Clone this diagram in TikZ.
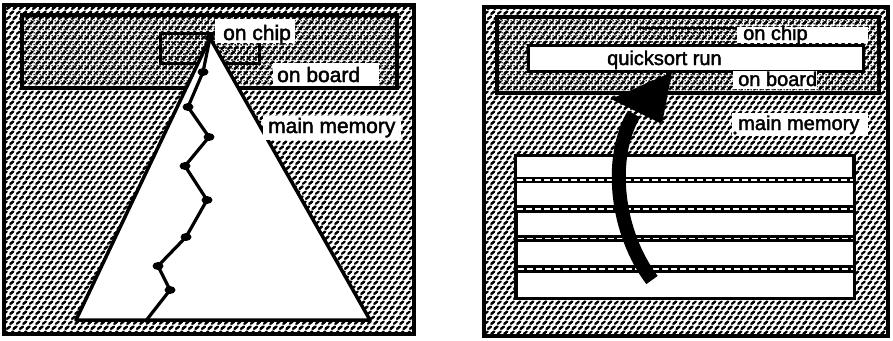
\documentclass[tikz,border=0pt]{standalone}
\usepackage{fontspec}
\setmainfont{Liberation Sans}[FakeBold=2]
\usetikzlibrary{patterns,shapes.geometric}
\newcommand{\memblob}[2]{%
  \pgfpathmoveto{\pgfqpoint{#1pt}{#2pt}}%
  \pgfpathcurveto{\pgfpointadd{\pgfqpoint{#1pt}{#2pt}}{\pgfqpoint{1.9pt}{-0.3pt}}}%
                 {\pgfpointadd{\pgfqpoint{#1pt}{#2pt}}{\pgfqpoint{0.9pt}{2.5pt}}}%
                 {\pgfpointadd{\pgfqpoint{#1pt}{#2pt}}{\pgfqpoint{2.9pt}{2.2pt}}}%
  \pgfusepath{stroke}}
\pgfdeclarepatternformonly{memtex}{\pgfqpoint{-4pt}{-4pt}}{\pgfqpoint{17pt}{14pt}}{\pgfqpoint{13pt}{10pt}}{%
  \pgfsetlinewidth{2.2pt}\pgfsetroundcap\pgfsetroundjoin
  \memblob{0.6}{1.2}\memblob{7.1}{1.2}\memblob{13.6}{1.2}
  \memblob{3.85}{6.2}\memblob{10.35}{6.2}\memblob{-2.65}{6.2}
  \memblob{0.6}{11.2}\memblob{7.1}{11.2}}
\pgfdeclarepatternformonly{boardtex}{\pgfqpoint{0pt}{0pt}}{\pgfqpoint{3pt}{3pt}}{\pgfqpoint{3pt}{3pt}}{%
  \pgfpathcircle{\pgfqpoint{1.5pt}{1.5pt}}{1.0pt}\pgfusepath{fill}}
\pgfdeclarepatternformonly{chiptex}{\pgfqpoint{0pt}{0pt}}{\pgfqpoint{6pt}{6pt}}{\pgfqpoint{6pt}{6pt}}{%
  \pgfpathcircle{\pgfqpoint{1.5pt}{1.5pt}}{1.0pt}\pgfusepath{fill}
  \pgfpathcircle{\pgfqpoint{4.5pt}{4.5pt}}{1.0pt}\pgfusepath{fill}}
\tikzset{
  memarea/.style={pattern=memtex, draw=black, line width=4.5pt},
  boardarea/.style={pattern=boardtex, draw=black, line width=3.5pt},
  chiparea/.style={pattern=chiptex, draw=black, line width=3pt},
  labbox/.style={fill=white},
  txtA/.style={font=\fontsize{21}{24}\selectfont, inner sep=0pt, anchor=base west},
  txtB/.style={font=\fontsize{20}{23}\selectfont, inner sep=0pt, anchor=base west},
  tri/.style={fill=white, draw=black, line width=3.5pt, line join=round},
  zig/.style={draw=black, line width=3.2pt, line join=round},
  zdot/.style={ellipse, fill=black, inner sep=0pt, minimum width=11pt, minimum height=8pt},
  stripe/.style={fill=white},
  sep/.style={draw=white, line width=1.4pt, dash pattern=on 6pt off 3pt},
}
\begin{document}
\begin{tikzpicture}[x=1pt,y=-1pt]
\useasboundingbox (0,0) rectangle (893,340);
% ---------------- left panel ----------------
\draw[memarea] (4,5) rectangle (414,334);
\draw[boardarea] (22,15) rectangle (397,88);
\draw[chiparea] (160,33) rectangle (259,63);
\draw[tri] (210,38) -- (370,320) -- (76,320) -- cycle;
\coordinate (apex) at (210,38);
\node[zdot] (z1) at (203,72) {};
\node[zdot] (z2) at (188,107) {};
\node[zdot] (z3) at (209,137) {};
\node[zdot] (z4) at (185,166) {};
\node[zdot] (z5) at (207,200) {};
\node[zdot] (z6) at (186,237) {};
\node[zdot] (z7) at (158,266) {};
\node[zdot] (z8) at (170,290) {};
\coordinate (zend) at (145,322);
\fill (apex) circle (4.5pt);
\draw[zig] (apex) -- (z1.center) -- (z2.center) -- (z3.center) -- (z4.center) -- (z5.center)
  -- (z6.center) -- (z7.center) -- (z8.center) -- (zend);
\fill[labbox] (215,19) rectangle (295,43);
\node[txtA] (chipL) at (223,40) {on chip};
\fill[labbox] (273,63) rectangle (379,86);
\node[txtA] (boardL) at (277,82) {on board};
\fill[labbox] (263,116) rectangle (401,140);
\node[txtA] (memL) at (268,133) {main memory};
% ---------------- right panel ----------------
\draw[memarea] (484,7) rectangle (888,336);
\draw[boardarea] (497,17) rectangle (879,93);
\fill[pattern=chiptex] (640,28) rectangle (745,48);
\draw[line width=2.5pt] (640,28) -- (745,28);
\fill[labbox] (737,27) rectangle (868,43);
\node[txtB] (chipR) at (743,40) {on chip};
\node[draw=black, line width=2.5pt, fill=white, minimum width=335pt, minimum height=26pt, anchor=north west, inner sep=0pt] (qsbox) at (527,44) {};
\node[txtB] (qs) at (607,65) {quicksort run};
\fill[labbox] (733,71) rectangle (817,89);
\node[txtB] (boardR) at (738,86) {on board};
\fill[labbox] (732,113) rectangle (868,136);
\node[txtB] (memR) at (738,130) {main memory};
\fill (735,133) circle (1.8pt);
% run stripes
\fill[black] (514,154) rectangle (856,300);
\fill[stripe] (517,157) rectangle (852,177);
\fill[stripe] (517,183) rectangle (853,205);
\fill[stripe] (518,213) rectangle (853,235);
\fill[stripe] (518,242) rectangle (853,265);
\fill[stripe] (518,273) rectangle (853,297);
\draw[sep] (517,180) -- (853,180);
\draw[sep] (517,209) -- (853,209);
\draw[sep] (518,238.5) -- (853,238.5);
\draw[sep] (518,269) -- (853,269);
% arrow
\coordinate (arrS) at (652,280);
\coordinate (arrE) at (634,114);
\coordinate (arrT) at (672,72);
\draw[line width=14pt] (arrS) .. controls (616,232) and (608,158) .. (arrE);
\fill (arrT) -- (611,99) -- (662,124) -- cycle;
\end{tikzpicture}
\end{document}
